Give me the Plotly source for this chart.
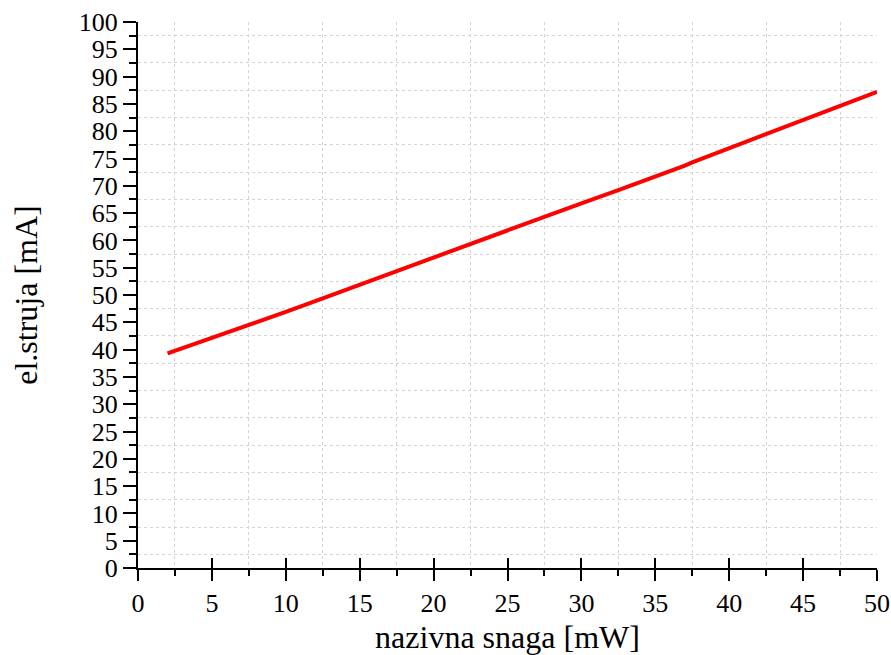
import plotly.graph_objects as go

# nominal power [mW] vs. electric current [mA]
snaga = [2, 5, 7.5, 10, 12.5, 15, 17.5, 20, 22.5, 25, 27.5, 30, 32.5, 35, 36, 37, 37.5, 40, 42.5, 45, 47.5, 50]
struja = [39.3, 42.1, 44.5, 46.9, 49.4, 51.9, 54.4, 56.9, 59.4, 61.9, 64.4, 66.8, 69.2, 71.7, 72.6, 73.7, 74.3, 76.9, 79.5, 82.0, 84.6, 87.2]

x_range = [0, 50]
y_range = [0, 100]

font = "Liberation Serif, Times New Roman, serif"
grid = dict(showgrid=True, gridcolor="#d4d4d4", griddash="3px,3px", gridwidth=1)

fig = go.Figure()
fig.add_trace(go.Scatter(x=snaga, y=struja, mode="lines",
                         line=dict(color="#ff0000", width=4), cliponaxis=False,
                         showlegend=False, hoverinfo="skip"))
# invisible helper trace so the overlay axis (inner half of the x ticks) gets drawn
fig.add_trace(go.Scatter(x=x_range, y=y_range, xaxis="x2", mode="markers",
                         marker=dict(opacity=0), showlegend=False, hoverinfo="skip"))

fig.update_layout(
    width=891, height=655,
    margin=dict(l=138, r=14, t=22, b=87),
    plot_bgcolor="white", paper_bgcolor="white",
    font=dict(family=font, size=26, color="black"),
    xaxis=dict(range=x_range, dtick=5, tick0=0, showgrid=False, zeroline=False,
               automargin=False,
               showline=True, linecolor="black", linewidth=2,
               ticks="outside", ticklen=11, tickwidth=2, tickcolor="black",
               ticklabelstandoff=0,
               minor=dict(dtick=2.5, tick0=0, ticks="outside", ticklen=6, tickwidth=2,
                          tickcolor="black", **grid),
               title=dict(text="nazivna snaga [mW]", font=dict(size=32), standoff=13)),
    xaxis2=dict(range=x_range, dtick=5, tick0=0, overlaying="x", anchor="y", side="bottom",
                automargin=False,
                showgrid=False, zeroline=False, showline=False, showticklabels=False,
                ticks="inside", ticklen=10, tickwidth=2, tickcolor="black"),
    yaxis=dict(range=y_range, dtick=5, tick0=0, showgrid=False, zeroline=False,
               automargin=False,
               showline=True, linecolor="black", linewidth=2,
               ticks="outside", ticklen=13, tickwidth=2, tickcolor="black",
               ticklabelstandoff=0,
               minor=dict(dtick=2.5, tick0=0, ticks="outside", ticklen=7, tickwidth=2,
                          tickcolor="black", **grid),
               title=dict(text="el.struja [mA]", font=dict(size=32), standoff=32)),
)

# drop the page's default body margin so the figure sits at the window's corner
fig.write_html("out.html", config={"displayModeBar": False},
               post_script="document.body.style.margin = '0';")
